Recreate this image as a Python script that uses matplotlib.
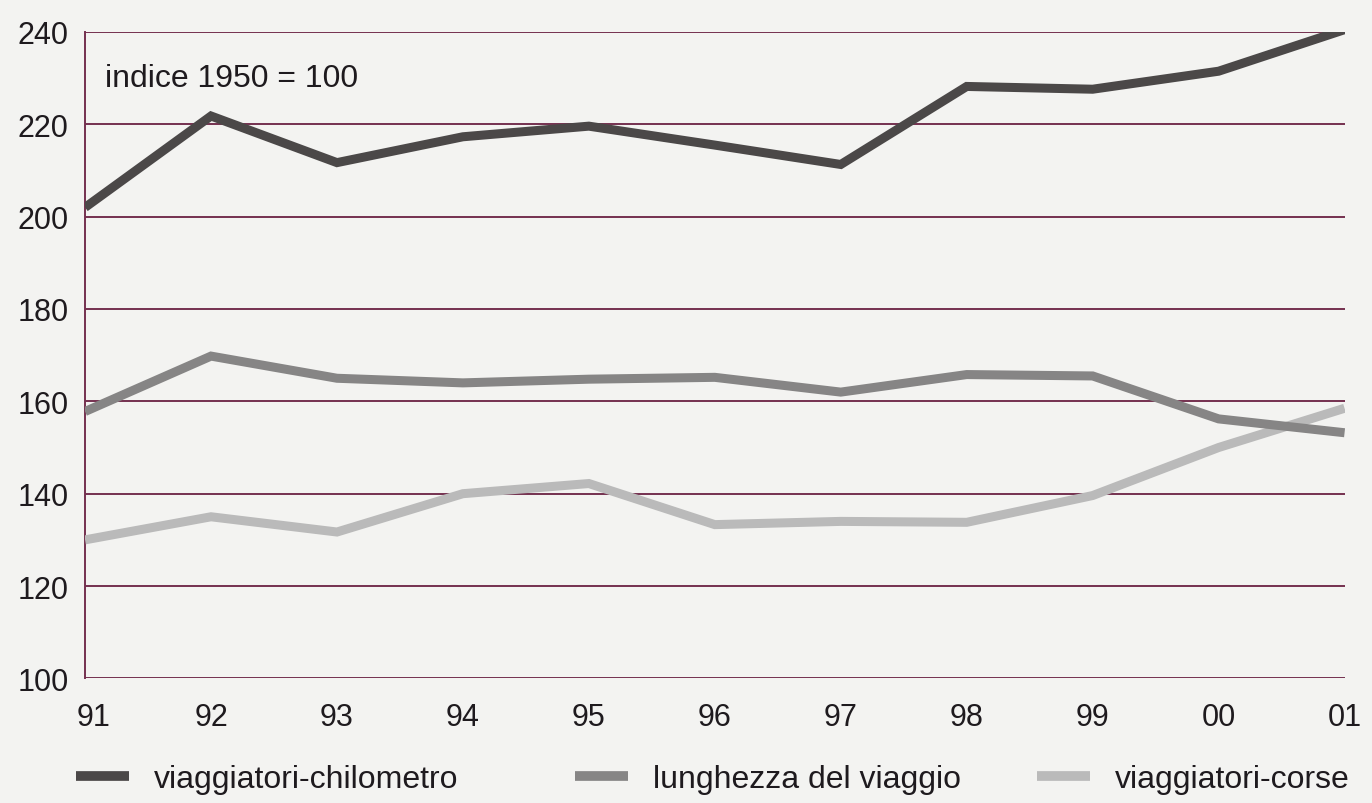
import matplotlib.pyplot as plt
import matplotlib.transforms as mtransforms
from matplotlib.lines import Line2D

# anni e serie (indice 1950 = 100)
anni = ['91', '92', '93', '94', '95', '96', '97', '98', '99', '00', '01']
viaggiatori_km = [202, 221.8, 211.7, 217.3, 219.6, 215.5, 211.3, 228.2, 227.6, 231.5, 240.5]
lunghezza = [157.8, 169.8, 165, 164, 164.8, 165.2, 162, 165.8, 165.5, 156.2, 153.2]
viaggiatori_corse = [130, 135, 131.7, 140, 142.2, 133.3, 134, 133.8, 139.6, 150, 158.5]

y_ticks = [100, 120, 140, 160, 180, 200, 220, 240]

nomi = ['viaggiatori-chilometro', 'lunghezza del viaggio', 'viaggiatori-corse']
colori = ['#4b4848', '#868585', '#bababa']

grid_col = '#74304f'
text_col = '#1e1a1e'
bg = '#f3f3f1'

plt.rcParams['font.family'] = ['Liberation Sans', 'DejaVu Sans']

fig = plt.figure(figsize=(13.72, 8.04), dpi=100, facecolor=bg)
ax = fig.add_axes([0.062, 0.155, 0.918, 0.804])
ax.set_facecolor(bg)

x = list(range(len(anni)))

# light first, dark on top
for serie, col, z in [(viaggiatori_corse, colori[2], 3),
                      (lunghezza, colori[1], 4),
                      (viaggiatori_km, colori[0], 5)]:
    ax.plot(x, serie, color=col, lw=6.5, solid_capstyle='butt',
            solid_joinstyle='miter', zorder=z)

ax.set_xlim(0, len(anni) - 1)
ax.set_ylim(100, 240)
ax.set_yticks(y_ticks)
ax.set_xticks(x)
ax.set_xticklabels(anni)

for v in y_ticks:
    ax.axhline(v, color=grid_col, lw=1.4, zorder=1)

for s in ['top', 'right', 'bottom']:
    ax.spines[s].set_visible(False)
ax.spines['left'].set_color(grid_col)
ax.spines['left'].set_linewidth(1.4)

ax.tick_params(axis='both', length=0, labelsize=22, colors=text_col)
ax.tick_params(axis='y', pad=12)
ax.tick_params(axis='x', pad=17)

# first label sits a bit right of the axis
lab0 = ax.get_xticklabels()[0]
lab0.set_transform(lab0.get_transform() +
                   mtransforms.ScaledTranslation(8 / 100, 0, fig.dpi_scale_trans))

ax.text(0.16, 233.3, 'indice 1950 = 100', fontsize=23, color=text_col, va='top')

# legend: three separate entries placed along the bottom
leg_x = [76, 575, 1037]
for nome, col, px in zip(nomi, colori, leg_x):
    h = Line2D([], [], color=col, lw=7, solid_capstyle='butt')
    leg = fig.legend([h], [nome], loc='center left',
                     bbox_to_anchor=(px / 1372, 1 - 780 / 804),
                     frameon=False, fontsize=23, handlelength=1.66,
                     handletextpad=0.78, borderpad=0, borderaxespad=0)
    for t in leg.get_texts():
        t.set_color(text_col)

plt.savefig('out.png', dpi=100, facecolor=bg)
